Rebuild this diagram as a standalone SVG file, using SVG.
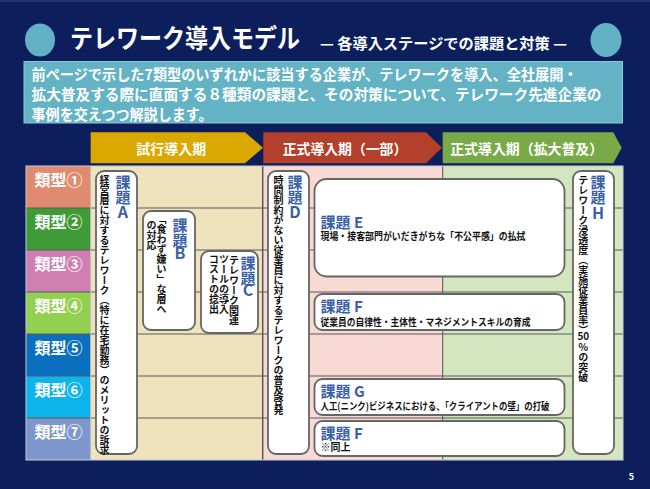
<svg xmlns="http://www.w3.org/2000/svg" width="650" height="489" viewBox="0 0 650 489">
<style>
.jp{font-family:"Noto Sans CJK JP","Noto Sans",sans-serif;font-weight:bold}
.vt{writing-mode:vertical-rl}
.box{fill:#fff;stroke:#666;stroke-width:1.8}
.kd{fill:#3b5fa9;font-size:15px}
.kl{fill:#3b5fa9;font-size:16px;text-anchor:middle}
.bd{fill:#111;font-size:10px}
.lbl{fill:#fff;font-size:16px;text-anchor:middle}
.ph{fill:#fff;font-size:14px;text-anchor:middle}
.grid{stroke:#5a5a5a;stroke-width:1}
</style>
<rect x="0" y="0" width="650" height="489" fill="#0c1f5c"/>
<rect x="0" y="0" width="650" height="2" fill="#24386f"/>

<g id="header">
  <ellipse cx="40" cy="40" rx="15" ry="16.5" fill="#62b1c4"/>
  <ellipse cx="606" cy="40" rx="15.5" ry="17" fill="#62b1c4"/>
  <text class="jp" x="70" y="48" fill="#fff" font-size="26" textLength="230" lengthAdjust="spacingAndGlyphs">テレワーク導入モデル</text>
  <text class="jp" x="320" y="48.5" fill="#fff" font-size="15" textLength="247" lengthAdjust="spacingAndGlyphs">— 各導入ステージでの課題と対策 —</text>
  <rect x="24" y="61.5" width="598.5" height="61.5" fill="#63b3c5" stroke="#8ec7d5" stroke-width="1"/>
  <text class="jp" x="31.5" y="79.5" fill="#fff" font-size="15" textLength="546" lengthAdjust="spacingAndGlyphs">前ページで示した7類型のいずれかに該当する企業が、テレワークを導入、全社展開・</text>
  <text class="jp" x="31.5" y="99.5" fill="#fff" font-size="15" textLength="570" lengthAdjust="spacingAndGlyphs">拡大普及する際に直面する８種類の課題と、その対策について、テレワーク先進企業の</text>
  <text class="jp" x="31.5" y="119.5" fill="#fff" font-size="15" textLength="181" lengthAdjust="spacingAndGlyphs">事例を交えつつ解説します。</text>
</g>

<g id="phase-trial">
  <polygon points="90.7,132.3 245,132.3 263,147.8 245,163.3 90.7,163.3" fill="#dba800"/>
  <text class="jp ph" x="171.3" y="154" textLength="70" lengthAdjust="spacingAndGlyphs">試行導入期</text>
</g>
<g id="phase-partial">
  <polygon points="263.3,132.3 426,132.3 442,147.8 426,163.3 263.3,163.3" fill="#b3402a"/>
  <text class="jp ph" x="345" y="154" textLength="124.6" lengthAdjust="spacingAndGlyphs">正式導入期（一部）</text>
</g>
<g id="phase-expand">
  <polygon points="442.7,132.3 613.3,132.3 621.7,147.8 613.3,163.3 442.7,163.3" fill="#78ab48"/>
  <text class="jp ph" x="526.7" y="154" textLength="153" lengthAdjust="spacingAndGlyphs">正式導入期（拡大普及）</text>
</g>

<g id="table">
  <rect x="90.7" y="166" width="172" height="294" fill="#eee3bc"/>
  <rect x="262.7" y="166" width="180" height="294" fill="#f8d9d3"/>
  <rect x="442.7" y="166" width="180.3" height="294" fill="#d4e6bf"/>
  <rect x="26" y="166" width="64.7" height="42" fill="#e08a70"/>
  <rect x="26" y="208" width="64.7" height="42" fill="#3f9b35"/>
  <rect x="26" y="250" width="64.7" height="42" fill="#d07fb3"/>
  <rect x="26" y="292" width="64.7" height="42" fill="#92d050"/>
  <rect x="26" y="334" width="64.7" height="42" fill="#0a6fbe"/>
  <rect x="26" y="376" width="64.7" height="42" fill="#0cb4ee"/>
  <rect x="26" y="418" width="64.7" height="42" fill="#7d97cc"/>
  <g class="grid">
    <line x1="26" y1="208" x2="623" y2="208"/>
    <line x1="26" y1="250" x2="623" y2="250"/>
    <line x1="26" y1="292" x2="623" y2="292"/>
    <line x1="26" y1="334" x2="623" y2="334"/>
    <line x1="26" y1="376" x2="623" y2="376"/>
    <line x1="26" y1="418" x2="623" y2="418"/>
    <line x1="262.7" y1="166" x2="262.7" y2="460" stroke-width="1.5"/>
    <line x1="442.7" y1="166" x2="442.7" y2="460"/>
  </g>
  <rect x="26" y="166" width="597" height="294" fill="none" stroke="#c3ccdc" stroke-width="1"/>
  <line x1="90.7" y1="166" x2="90.7" y2="460" stroke="#c3ccdc" stroke-width="1"/>
</g>

<g id="row-labels" class="jp">
  <text class="lbl" x="58.5" y="186">類型①</text>
  <text class="lbl" x="58.5" y="228">類型②</text>
  <text class="lbl" x="58.5" y="270">類型③</text>
  <text class="lbl" x="58.5" y="312">類型④</text>
  <text class="lbl" x="58.5" y="354">類型⑤</text>
  <text class="lbl" x="58.5" y="396">類型⑥</text>
  <text class="lbl" x="58.5" y="438">類型⑦</text>
</g>

<g id="connectors"></g>

<g id="task-A">
  <rect class="box" x="96" y="171" width="41" height="283" rx="8"/>
  <text class="jp kd vt" x="123" y="174.5">課題</text>
  <text class="jp kl" x="123" y="218">A</text>
  <text class="jp bd vt" x="104.5" y="175" font-size="9.7">経営層に対するテレワーク（特に在宅勤務）のメリットの訴求</text>
</g>
<g id="task-B">
  <rect class="box" x="143" y="211" width="52" height="119" rx="8"/>
  <text class="jp kd vt" x="180" y="217.5">課題</text>
  <text class="jp kl" x="180" y="259">B</text>
  <text class="jp bd vt" x="161.5" y="214">「食わず嫌い」な層へ</text>
  <text class="jp bd vt" x="151.5" y="220">の対応</text>
</g>
<g id="task-C">
  <rect class="box" x="201" y="251" width="57" height="82" rx="8"/>
  <text class="jp kd vt" x="248" y="255.5">課題</text>
  <text class="jp kl" x="248" y="296">C</text>
  <text class="jp bd vt" x="234" y="255">テレワーク関連</text>
  <text class="jp bd vt" x="224" y="254">ツールの導入</text>
  <text class="jp bd vt" x="214" y="254">コストの捻出</text>
</g>
<g id="task-D">
  <rect class="box" x="268" y="171" width="41" height="283" rx="8"/>
  <text class="jp kd vt" x="295" y="174.5">課題</text>
  <text class="jp kl" x="295" y="218">D</text>
  <text class="jp bd vt" x="278.5" y="175.3" font-size="9.4">時間制約がない従業員に対するテレワークの普及啓発</text>
</g>
<g id="task-E">
  <rect class="box" x="314.5" y="179" width="250" height="97.5" rx="12"/>
  <text class="jp kd" x="320.5" y="228">課題 E</text>
  <text class="jp bd" x="320.5" y="239.5" textLength="205" lengthAdjust="spacingAndGlyphs">現場・接客部門がいだきがちな「不公平感」の払拭</text>
</g>
<g id="task-F1">
  <rect class="box" x="314.5" y="294" width="250" height="36" rx="8"/>
  <text class="jp kd" x="320.5" y="312">課題 F</text>
  <text class="jp bd" x="320.5" y="325.5" textLength="210" lengthAdjust="spacingAndGlyphs">従業員の自律性・主体性・マネジメントスキルの育成</text>
</g>
<g id="task-G">
  <rect class="box" x="314.5" y="379" width="250" height="36" rx="8"/>
  <text class="jp kd" x="320.5" y="396.5">課題 G</text>
  <text class="jp bd" x="320.5" y="410" textLength="229" lengthAdjust="spacingAndGlyphs">人工(ニンク)ビジネスにおける、「クライアントの壁」の打破</text>
</g>
<g id="task-F2">
  <rect class="box" x="314.5" y="421" width="250" height="35" rx="8"/>
  <text class="jp kd" x="320.5" y="438.5">課題 F</text>
  <text class="jp bd" x="320.5" y="450.5">※同上</text>
</g>
<g id="task-H">
  <rect class="box" x="573" y="171" width="41" height="283" rx="8"/>
  <text class="jp kd vt" x="598" y="174.5">課題</text>
  <text class="jp kl" x="598" y="218.5">H</text>
  <text class="jp bd vt" x="583.3" y="175" font-size="9.6">テレワーク浸透度（実施従業員率）</text>
  <text class="jp bd" x="583.3" y="340" text-anchor="middle">50</text>
  <text class="jp bd vt" x="583.3" y="342">％の突破</text>
</g>

<text class="jp" x="631.5" y="480" fill="#fff" font-size="9" text-anchor="middle">5</text>
</svg>
